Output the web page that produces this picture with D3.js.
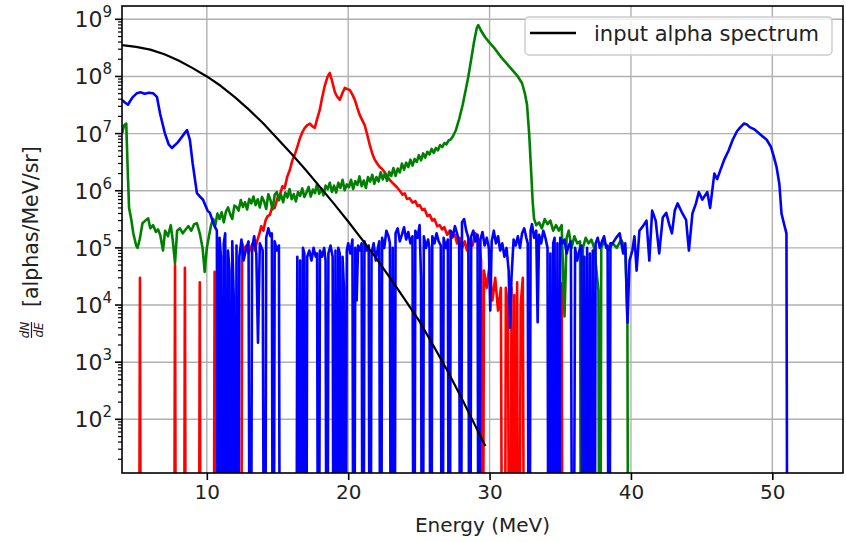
<!DOCTYPE html>
<html>
<head>
<meta charset="utf-8">
<script src="https://cdn.jsdelivr.net/npm/d3@7"></script>
<style>
  body { margin: 0; background: #fff; }
  svg text { font-family: "DejaVu Sans", sans-serif; fill: #222; }
</style>
</head>
<body>
<div id="chart"></div>
<script>
// ---- data (energy in MeV, dN/dE in alphas/MeV/sr; 0 = empty bin) ----
const xTicks = [10, 20, 30, 40, 50];
const yTickExps = [2, 3, 4, 5, 6, 7, 8, 9];

const inputSpectrum = [
  [4, 3.55e8], [5, 3.3e8], [6, 2.95e8], [7, 2.45e8], [8, 1.9e8], [9, 1.4e8],
  [10, 1.0e8], [11, 6.8e7], [12, 4.3e7], [13, 2.6e7], [14, 1.5e7], [15, 8.1e6],
  [16, 4.4e6], [17, 2.3e6], [18, 1.17e6], [19, 5.9e5], [20, 2.9e5], [21, 1.38e5],
  [22, 6.5e4], [23, 2.9e4], [24, 1.26e4], [25, 5.4e3], [26, 2.0e3], [27, 720],
  [28, 240], [29, 76], [29.7, 34]
];

const redSeries = [
  [5.17, 0], [5.27, 3e4], [5.37, 0],
  [7.65, 0], [7.75, 5e4], [7.85, 0],
  [8.35, 0], [8.45, 4.5e4], [8.55, 0],
  [9.4, 0], [9.5, 2.5e4], [9.6, 0],
  [10.45, 0], [10.55, 3.8e4], [10.65, 0],
  [11.0, 0], [11.1, 9e3], [11.2, 0], [11.3, 1.0e4], [11.4, 0], [11.5, 9e3], [11.6, 0],
  [11.7, 1.1e4], [11.8, 0], [11.9, 9e3], [12.0, 0],
  [12.4, 0], [12.5, 1.2e5], [12.65, 9e4], [12.8, 1.1e5], [12.95, 8e4], [13.1, 1.0e5],
  [13.25, 1.2e5], [13.4, 9e4], [13.55, 1.3e5], [13.7, 1.7e5], [13.85, 2.4e5], [14.0, 2.0e5],
  [14.15, 3.0e5], [14.3, 3.6e5], [14.46, 3.8e5], [14.65, 5.5e5], [14.8, 5.0e5], [15.0, 7.5e5],
  [15.17, 8.5e5], [15.35, 1.2e6], [15.5, 1.1e6], [15.7, 1.8e6], [15.87, 2.3e6], [16.05, 3.4e6],
  [16.25, 4.5e6], [16.44, 6.3e6], [16.6, 8.5e6], [16.75, 1.05e7], [16.93, 1.26e7], [17.1, 1.4e7],
  [17.29, 1.5e7], [17.45, 1.35e7], [17.64, 1.26e7], [17.8, 1.8e7], [17.99, 2.6e7], [18.15, 4.2e7],
  [18.35, 7e7], [18.55, 1.0e8], [18.7, 1.15e8], [18.85, 8.5e7], [19.05, 5.4e7], [19.2, 4.5e7],
  [19.41, 3.9e7], [19.6, 5.2e7], [19.76, 6.3e7], [19.95, 6.0e7], [20.11, 5.8e7], [20.3, 4.8e7],
  [20.47, 3.9e7], [20.65, 2.8e7], [20.82, 2.1e7], [21.0, 1.7e7], [21.17, 1.4e7], [21.35, 9.5e6],
  [21.53, 6.3e6], [21.7, 4.5e6], [21.88, 3.5e6], [22.05, 3.0e6], [22.23, 2.6e6], [22.4, 2.4e6],
  [22.59, 2.1e6], [22.75, 1.8e6], [22.94, 1.55e6], [23.1, 1.4e6], [23.29, 1.26e6], [23.45, 1.15e6],
  [23.65, 1.0e6], [23.85, 8.5e5], [24.0, 9.0e5], [24.15, 7.2e5], [24.35, 7.4e5], [24.55, 6.2e5],
  [24.75, 6.6e5], [24.9, 5.4e5], [25.06, 5.6e5], [25.25, 4.6e5], [25.4, 4.8e5], [25.6, 3.6e5],
  [25.77, 3.8e5], [25.95, 3.0e5], [26.1, 3.2e5], [26.3, 2.4e5], [26.47, 2.5e5], [26.65, 2.1e5],
  [26.8, 2.3e5], [27.0, 1.7e5], [27.18, 2.0e5], [27.35, 1.5e5], [27.55, 1.7e5], [27.7, 1.2e5],
  [27.89, 1.5e5], [28.05, 1.0e5], [28.25, 1.3e5], [28.4, 9e4], [28.6, 1.4e5], [28.8, 1.1e5],
  [29.0, 1.8e5], [29.16, 1.6e5], [29.3, 1.0e5], [29.4, 6e4], [29.5, 0],
  [29.6, 4e4], [29.8, 2e4], [30.0, 5e4], [30.2, 1.2e4], [30.4, 3e4], [30.6, 8e3], [30.8, 2e4],
  [30.95, 0], [31.05, 0], [31.15, 2e4], [31.3, 1e4], [31.45, 0], [31.55, 2e4], [31.65, 0],
  [31.75, 1.5e4], [31.85, 0], [31.95, 2.5e4], [32.05, 0], [32.2, 1e4], [32.35, 3e4], [32.5, 0],
  [35.0, 0], [35.1, 2.4e4], [35.2, 0]
];

const greenSeries = [
  [4.0, 1.0e7], [4.15, 1.4e7], [4.3, 1.5e7], [4.4, 2.5e6], [4.5, 5e5], [4.65, 3.2e5],
  [4.8, 1.8e5], [5.0, 1.1e5], [5.1, 1.0e5], [5.25, 1.4e5], [5.45, 2.7e5], [5.65, 3.0e5],
  [5.85, 3.3e5], [6.0, 2.2e5], [6.2, 2.5e5], [6.4, 1.9e5], [6.55, 2.1e5], [6.7, 1.7e5],
  [6.9, 9e4], [7.05, 2.0e5], [7.25, 1.6e5], [7.45, 2.5e5], [7.6, 1.3e5], [7.75, 5.4e4],
  [7.9, 2.0e5], [8.1, 2.2e5], [8.3, 1.8e5], [8.5, 2.1e5], [8.7, 2.4e5], [8.9, 2.0e5],
  [9.1, 2.6e5], [9.3, 2.7e5], [9.5, 1.8e5], [9.7, 1.0e5], [9.85, 3.8e4], [10.0, 1.0e5],
  [10.15, 1.6e5], [10.3, 2.5e5], [10.45, 3.2e5], [10.6, 2.5e5], [10.75, 4.0e5], [10.9, 3.2e5],
  [11.05, 4.2e5], [11.2, 2.8e5], [11.35, 4.3e5], [11.5, 5.1e5], [11.65, 3.9e5], [11.8, 3.2e5],
  [11.95, 5.5e5], [12.1, 5.2e5], [12.25, 4.5e5], [12.4, 6.9e5], [12.55, 5.2e5], [12.7, 6.3e5],
  [12.85, 4.7e5], [13.0, 7.2e5], [13.15, 6.0e5], [13.3, 7.9e5], [13.45, 5.6e5], [13.6, 7.1e5],
  [13.75, 5.1e5], [13.9, 7.8e5], [14.05, 6.5e5], [14.2, 4.8e5], [14.35, 8.7e5], [14.5, 6.9e5],
  [14.65, 4.7e5], [14.8, 8.5e5], [14.95, 9.5e5], [15.1, 6.8e5], [15.25, 8.5e5], [15.4, 6.3e5],
  [15.55, 9.3e5], [15.7, 7.6e5], [15.85, 1.07e6], [16.0, 7.1e5], [16.15, 8.7e5], [16.3, 6.5e5],
  [16.45, 9.5e5], [16.6, 8.1e5], [16.75, 1.1e6], [16.9, 7.8e5], [17.05, 9.3e5], [17.2, 1.17e6],
  [17.35, 7.9e5], [17.5, 1.05e6], [17.65, 9.1e5], [17.8, 1.32e6], [17.95, 8.9e5], [18.1, 1.1e6],
  [18.25, 8.3e5], [18.4, 1.23e6], [18.55, 1.07e6], [18.7, 1.38e6], [18.85, 9.5e5], [19.0, 1.23e6],
  [19.15, 9.3e5], [19.3, 1.38e6], [19.45, 1.12e6], [19.6, 1.55e6], [19.75, 1.02e6], [19.9, 1.29e6],
  [20.05, 1.15e6], [20.2, 1.55e6], [20.35, 1.07e6], [20.5, 1.48e6], [20.65, 1.26e6], [20.8, 1.78e6],
  [20.95, 1.2e6], [21.1, 1.51e6], [21.25, 1.12e6], [21.4, 1.74e6], [21.55, 1.45e6], [21.7, 1.9e6],
  [21.85, 1.32e6], [22.0, 1.74e6], [22.15, 1.45e6], [22.3, 2.1e6], [22.45, 1.58e6], [22.6, 2.04e6],
  [22.75, 1.48e6], [22.9, 2.14e6], [23.05, 1.82e6], [23.2, 2.5e6], [23.35, 1.82e6], [23.5, 2.45e6],
  [23.65, 2.1e6], [23.8, 3.0e6], [23.95, 2.34e6], [24.1, 3.1e6], [24.25, 2.6e6], [24.4, 3.5e6],
  [24.55, 2.75e6], [24.7, 3.6e6], [24.85, 3.2e6], [25.0, 4.2e6], [25.15, 3.4e6], [25.3, 4.5e6],
  [25.45, 3.8e6], [25.6, 4.8e6], [25.75, 4.3e6], [25.9, 5.4e6], [26.05, 4.6e6], [26.2, 5.6e6],
  [26.35, 5.1e6], [26.5, 6.3e6], [26.65, 5.8e6], [26.8, 6.8e6], [26.95, 6.5e6], [27.1, 7.6e6],
  [27.25, 7.9e6], [27.4, 8.9e6], [27.6, 1.12e7], [27.85, 1.8e7], [28.1, 3.2e7],
  [28.3, 5.6e7], [28.5, 1.0e8], [28.7, 2.0e8], [28.9, 4.0e8], [29.1, 7.1e8], [29.2, 7.9e8],
  [29.4, 6.3e8], [29.7, 4.8e8], [30.0, 3.9e8], [30.4, 3.0e8], [30.8, 2.2e8], [31.2, 1.7e8],
  [31.6, 1.3e8], [32.0, 1.0e8], [32.3, 7.6e7], [32.5, 5.0e7], [32.65, 3.2e7], [32.8, 1.0e7],
  [32.95, 2.0e6], [33.05, 6.3e5], [33.15, 3.2e5], [33.3, 2.5e5], [33.5, 2.8e5], [33.7, 2.2e5],
  [33.9, 3.2e5], [34.1, 2.6e5], [34.3, 3.0e5], [34.5, 2.0e5], [34.7, 2.5e5], [34.9, 2.0e5],
  [35.1, 2.5e5], [35.3, 6.3e3], [35.45, 1.5e5], [35.6, 2.0e5], [35.8, 1.0e5], [36.0, 1.6e5],
  [36.2, 1.2e5], [36.4, 1.3e5], [36.5, 0], [36.6, 1.0e5], [36.8, 1.5e5], [37.0, 1.2e5],
  [37.2, 1.4e5], [37.4, 1.0e5], [37.7, 1.8e4], [37.8, 0], [37.9, 1.0e5], [38.1, 1.3e5],
  [38.4, 9e4], [38.7, 1.2e5], [39.0, 1.0e5], [39.3, 1.4e5], [39.6, 1.0e5], [39.75, 5e3], [39.85, 0]
];

const blueSeries = [
  [4.0, 3.9e7], [4.2, 3.5e7], [4.42, 3.2e7], [4.6, 3.8e7], [4.78, 4.4e7], [5.06, 5.1e7],
  [5.3, 5.3e7], [5.6, 5.0e7], [5.9, 5.2e7], [6.19, 5.1e7], [6.47, 4.4e7], [6.7, 2.2e7],
  [7.04, 1.0e7], [7.3, 6.5e6], [7.53, 5.6e6], [7.75, 6.3e6], [7.96, 7.1e6], [8.31, 9.3e6],
  [8.6, 1.15e7], [8.8, 7.8e6], [9.0, 3e6], [9.3, 9.1e5], [9.5, 8e5], [9.74, 6.9e5],
  [9.9, 5.5e5], [10.05, 4.5e5], [10.22, 4.1e5], [10.4, 3.0e5], [10.55, 2.4e5], [10.71, 2.0e5],
  [10.8, 0], [10.9, 1.5e5], [11.0, 7e4], [11.1, 0], [11.2, 1.2e5], [11.3, 1.8e5], [11.4, 0],
  [11.5, 9e4], [11.6, 4e4], [11.7, 0], [11.8, 1.3e5], [11.9, 1.5e4], [12.0, 0], [12.1, 1.1e5],
  [12.2, 0], [12.3, 7e4], [12.45, 1.4e5], [12.6, 6e4], [12.75, 9e4], [12.95, 1.3e5], [13.08, 0],
  [13.2, 1.0e5], [13.35, 1.6e5], [13.5, 8e4], [13.62, 2.2e3], [13.75, 1.2e5], [13.95, 9e4],
  [14.1, 0], [14.2, 1.5e5], [14.35, 2.2e5], [14.5, 1.6e5], [14.6, 1.8e5], [14.7, 0],
  [14.8, 1.3e5], [14.95, 9e4], [15.1, 1.1e5], [15.2, 0], [16.3, 0], [16.4, 7e4], [16.5, 0],
  [16.6, 6e4], [16.7, 0], [16.8, 1.0e5], [16.9, 8e4], [17.0, 0], [17.1, 7e4], [17.25, 9e4],
  [17.4, 6e4], [17.55, 1.0e5], [17.7, 7e4], [17.8, 8e4], [17.9, 0], [18.0, 9e4], [18.15, 7e4],
  [18.3, 1.0e5], [18.4, 6e4], [18.5, 0], [18.6, 8e4], [18.75, 1.1e5], [18.9, 7e4], [19.0, 0],
  [19.1, 9e4], [19.2, 0], [19.3, 1.0e5], [19.4, 8e4], [19.5, 0], [19.6, 7e4], [19.7, 2e4],
  [19.8, 0], [19.9, 9e4], [20.0, 1.2e5], [20.15, 8e4], [20.3, 1.4e5], [20.4, 0], [20.5, 1.0e5],
  [20.6, 1.2e4], [20.7, 1.1e5], [20.85, 9e4], [20.95, 1.2e5], [21.05, 0], [21.15, 1.3e5],
  [21.3, 9e4], [21.45, 1.1e5], [21.55, 0], [21.65, 8e4], [21.8, 1.2e5], [21.95, 6e4],
  [22.1, 1.0e5], [22.2, 1.3e5], [22.3, 0], [22.4, 1.5e5], [22.55, 1.0e5], [22.7, 2.0e5],
  [22.85, 1.6e5], [22.95, 1.2e5], [23.05, 0], [23.15, 1.0e5], [23.25, 0], [23.35, 1.8e5],
  [23.5, 2.2e5], [23.65, 1.3e5], [23.8, 1.7e5], [23.95, 2.3e5], [24.1, 1.4e5], [24.25, 1.9e5],
  [24.4, 1.2e5], [24.55, 1.6e5], [24.65, 0], [24.75, 2.0e5], [24.9, 1.5e5], [25.05, 2.5e5],
  [25.15, 3e4], [25.25, 0], [25.35, 1.6e5], [25.5, 1.0e5], [25.65, 1.4e5], [25.75, 1.0e5],
  [25.85, 0], [25.95, 1.6e5], [26.1, 1.2e5], [26.25, 1.8e5], [26.4, 1.3e5], [26.55, 1.1e5],
  [26.65, 0], [26.75, 1.5e5], [26.9, 1.0e5], [27.05, 1.4e5], [27.15, 0], [27.25, 2.0e5],
  [27.4, 1.6e5], [27.55, 2.4e5], [27.7, 1.8e5], [27.85, 1.2e5], [27.95, 0], [28.05, 2.8e5],
  [28.2, 3.2e5], [28.35, 2.0e5], [28.5, 1.5e5], [28.6, 0], [28.7, 1.6e5], [28.85, 2.0e5],
  [29.0, 1.3e5], [29.15, 1.7e5], [29.25, 0], [29.35, 1.4e5], [29.5, 1.9e5], [29.65, 1.1e5],
  [29.8, 1.5e5], [29.95, 1.0e5], [30.05, 8e3], [30.15, 1.3e5], [30.3, 2.0e5], [30.45, 1.2e5],
  [30.6, 1.6e5], [30.75, 9e4], [30.9, 1.2e5], [31.05, 7e4], [31.2, 1.0e5], [31.35, 4e4],
  [31.45, 4e3], [31.55, 3e4], [31.7, 1.4e5], [31.85, 1.1e5], [32.0, 1.6e5], [32.15, 1.0e5],
  [32.3, 1.8e5], [32.45, 2.2e5], [32.6, 1.5e5], [32.7, 1.2e5], [32.8, 0], [32.9, 2.0e5],
  [33.0, 2.6e5], [33.15, 1.5e5], [33.3, 2.0e5], [33.4, 5e3], [33.5, 1.7e5], [33.65, 1.2e5],
  [33.8, 2.0e5], [33.95, 1.5e5], [34.1, 1.0e5], [34.2, 0], [34.3, 8e4], [34.4, 0],
  [34.5, 1.2e5], [34.6, 1.5e5], [34.7, 0], [34.8, 1.2e5], [34.9, 0], [35.0, 1.5e5],
  [35.15, 1.2e5], [35.3, 1.4e5], [35.45, 8e4], [35.6, 1.1e5], [35.75, 1.3e5], [35.9, 0],
  [36.05, 1.0e5], [36.2, 6e4], [36.35, 9e4], [36.5, 1.1e5], [36.6, 0], [36.7, 7e4], [36.8, 0],
  [36.9, 1.0e5], [37.0, 0], [37.1, 8e4], [37.2, 0], [37.3, 9e4], [37.4, 0], [37.5, 1.2e5],
  [37.65, 1.5e5], [37.8, 1.0e5], [37.95, 1.3e5], [38.1, 1.6e5], [38.25, 1.0e5], [38.35, 1.1e5],
  [38.45, 0], [38.55, 1.2e5], [38.7, 1.2e5], [38.95, 1.5e5], [39.2, 1.8e5], [39.45, 8e4],
  [39.6, 1.2e5], [39.76, 4.9e3], [39.9, 6e4], [40.1, 9e4], [40.25, 1.6e5], [40.4, 4e4],
  [40.6, 2.0e5], [40.85, 2.4e5], [41.1, 3.0e5], [41.3, 6e4], [41.5, 4.5e5], [41.75, 3.0e5],
  [42.0, 8e4], [42.25, 3.4e5], [42.5, 4.1e5], [42.7, 2.6e5], [42.9, 1.8e5], [43.1, 4.5e5],
  [43.3, 6.0e5], [43.6, 4.2e5], [43.9, 3.1e5], [44.1, 9e4], [44.35, 4e5], [44.6, 6e5],
  [44.8, 9.5e5], [45.05, 7e5], [45.4, 9.5e5], [45.6, 5e5], [45.9, 2.0e6], [46.1, 1.6e6],
  [46.3, 2.2e6], [46.6, 3.5e6], [46.9, 5e6], [47.2, 7.8e6], [47.5, 1.1e7], [47.75, 1.3e7],
  [48.0, 1.5e7], [48.2, 1.45e7], [48.4, 1.3e7], [48.7, 1.2e7], [48.95, 1.07e7], [49.3, 9e6],
  [49.6, 7.8e6], [49.9, 5.9e6], [50.1, 4e6], [50.3, 2.6e6], [50.5, 1.3e6], [50.65, 4e5],
  [50.85, 2.5e5], [51.0, 1.8e5], [51.1, 0]
];

const series = [
  { name: 'red', data: redSeries, color: '#ff0000', width: 2.6 },
  { name: 'green', data: greenSeries, color: '#008000', width: 2.6 },
  { name: 'blue', data: blueSeries, color: '#0000ff', width: 2.6 },
  { name: 'input alpha spectrum', data: inputSpectrum, color: '#000000', width: 2.2 }
];

// ---- layout ----
const width = 846, height = 542;
const margin = { top: 6, right: 3, bottom: 69, left: 122 };
const plotW = width - margin.left - margin.right;
const plotH = height - margin.top - margin.bottom;

const svg = d3.select('#chart').append('svg')
  .attr('width', width)
  .attr('height', height);

const x = d3.scaleLinear().domain([4, 55]).range([0, plotW]);
const y = d3.scaleLog().domain([11.5, 1.71e9]).range([plotH, 0]);

// empty bins go far below the axis (like matplotlib's clipped log)
const FLOOR = 1e-6;

const g = svg.append('g')
  .attr('transform', `translate(${margin.left},${margin.top})`);

g.append('clipPath').attr('id', 'plot-clip')
  .append('rect').attr('width', plotW).attr('height', plotH);

// grid
g.append('g')
  .selectAll('line')
  .data(xTicks)
  .enter().append('line')
  .attr('x1', d => x(d)).attr('x2', d => x(d))
  .attr('y1', 0).attr('y2', plotH)
  .style('stroke', '#b0b0b0').style('stroke-width', 1.4);

g.append('g')
  .selectAll('line')
  .data(yTickExps)
  .enter().append('line')
  .attr('x1', 0).attr('x2', plotW)
  .attr('y1', d => y(Math.pow(10, d))).attr('y2', d => y(Math.pow(10, d)))
  .style('stroke', '#b0b0b0').style('stroke-width', 1.4);

// lines
const line = d3.line()
  .x(d => x(d[0]))
  .y(d => y(d[1] > 0 ? d[1] : FLOOR));

const lines = g.append('g').attr('clip-path', 'url(#plot-clip)');
series.forEach(s => {
  lines.append('path')
    .datum(s.data)
    .attr('d', line)
    .style('fill', 'none')
    .style('stroke', s.color)
    .style('stroke-width', s.width)
    .style('stroke-linejoin', 'round');
});

// frame
g.append('rect')
  .attr('width', plotW).attr('height', plotH)
  .style('fill', 'none').style('stroke', '#000').style('stroke-width', 1.6);

// x axis
const xAxis = d3.axisBottom(x).tickValues(xTicks).tickSize(7).tickPadding(5);
const xg = g.append('g')
  .attr('transform', `translate(0,${plotH})`)
  .call(xAxis);
xg.select('.domain').remove();
xg.selectAll('line').style('stroke', '#000').style('stroke-width', 1.6);
xg.selectAll('text')
  .style('font-family', '"DejaVu Sans", sans-serif')
  .style('font-size', '20px')
  .style('fill', '#222');

// y axis: major ticks with 10^n labels, minor ticks at 2..9
const minor = [];
for (let e = 1; e <= 9; e++) {
  for (let m = 2; m <= 9; m++) {
    const v = m * Math.pow(10, e);
    if (v >= 11.5 && v <= 1.71e9) minor.push(v);
  }
}
g.append('g').selectAll('line')
  .data(minor)
  .enter().append('line')
  .attr('x1', -4).attr('x2', 0)
  .attr('y1', d => y(d)).attr('y2', d => y(d))
  .style('stroke', '#000').style('stroke-width', 1.2);

const yt = g.append('g').selectAll('g')
  .data(yTickExps)
  .enter().append('g')
  .attr('transform', d => `translate(0,${y(Math.pow(10, d))})`);
yt.append('line')
  .attr('x1', -7).attr('x2', 0)
  .style('stroke', '#000').style('stroke-width', 1.6);
const yl = yt.append('text')
  .attr('x', -10)
  .attr('y', 8)
  .attr('text-anchor', 'end')
  .style('font-size', '22px');
yl.append('tspan').text('10');
yl.append('tspan')
  .attr('dy', -10)
  .style('font-size', '15px')
  .text(d => d);

// axis labels
svg.append('text')
  .attr('x', margin.left + plotW / 2)
  .attr('y', 532)
  .attr('text-anchor', 'middle')
  .style('font-size', '20px')
  .text('Energy (MeV)');

const yLab = svg.append('g')
  .attr('transform', 'translate(37.5,307) rotate(-90)');
// dN/dE as a small stacked fraction
yLab.append('text')
  .attr('x', -23).attr('y', -9)
  .attr('text-anchor', 'middle')
  .style('font-size', '12px').style('font-style', 'italic')
  .text('dN');
yLab.append('line')
  .attr('x1', -31).attr('x2', -15)
  .attr('y1', -6).attr('y2', -6)
  .style('stroke', '#222').style('stroke-width', 1.2);
yLab.append('text')
  .attr('x', -23).attr('y', 5)
  .attr('text-anchor', 'middle')
  .style('font-size', '12px').style('font-style', 'italic')
  .text('dE');
yLab.append('text')
  .attr('x', 0).attr('y', 0)
  .style('font-size', '20.5px')
  .text('[alphas/MeV/sr]');

// legend
const leg = svg.append('g');
leg.append('rect')
  .attr('x', 525).attr('y', 17)
  .attr('width', 307).attr('height', 38)
  .attr('rx', 4)
  .style('fill', '#fff').style('fill-opacity', 0.8)
  .style('stroke', '#cccccc').style('stroke-width', 1.4);
leg.append('line')
  .attr('x1', 530).attr('x2', 576)
  .attr('y1', 33).attr('y2', 33)
  .style('stroke', '#000').style('stroke-width', 2.6);
leg.append('text')
  .attr('x', 594).attr('y', 41)
  .style('font-size', '21px')
  .text('input alpha spectrum');
</script>
</body>
</html>
